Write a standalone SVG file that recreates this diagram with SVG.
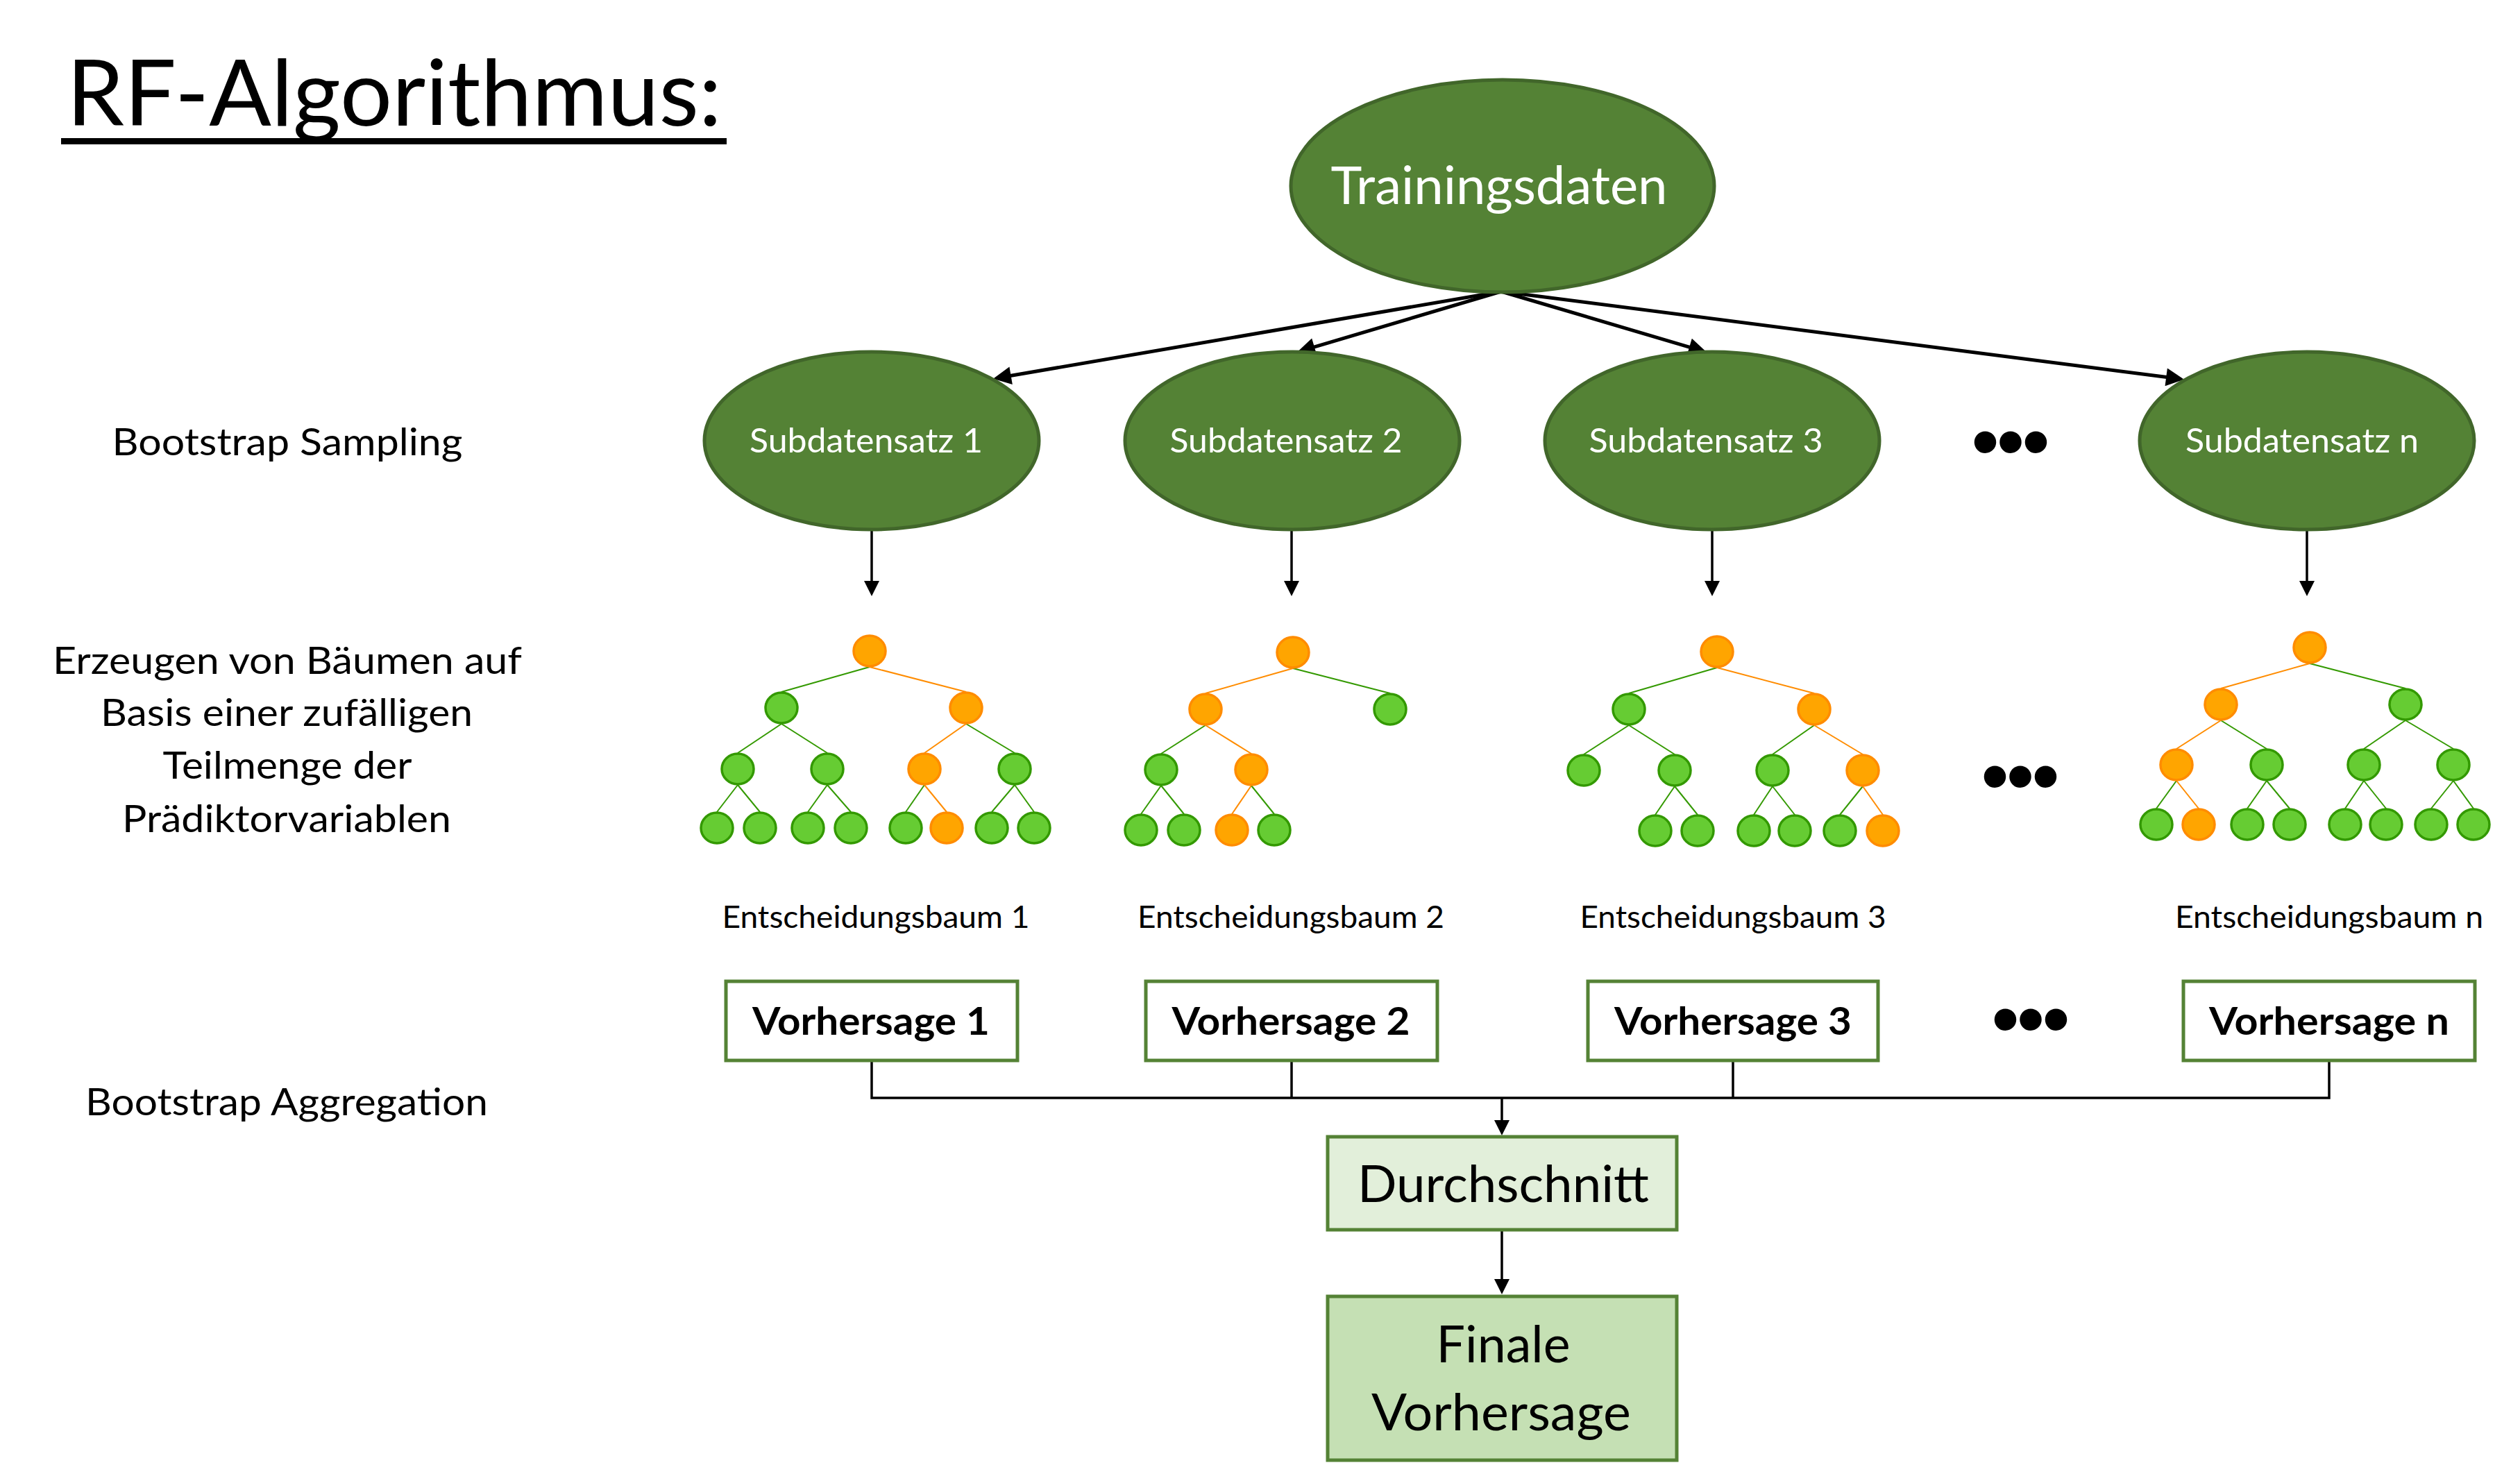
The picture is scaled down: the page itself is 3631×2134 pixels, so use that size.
<svg xmlns="http://www.w3.org/2000/svg" width="3631" height="2134" viewBox="0 0 3631 2134">
<style>
text{font-family:Lato,"Open Sans","Liberation Sans",sans-serif}
.lbl{font-size:55px;fill:#000;text-anchor:middle}
.ell{fill:#548235;stroke:#41662a;stroke-width:5}
.wt{fill:#fff;text-anchor:middle}
.box{fill:#fff;stroke:#548235;stroke-width:5}
.vh{font-size:55px;font-weight:bold;text-anchor:middle}
.eb{font-size:44px;text-anchor:middle}
.big{font-size:74px;text-anchor:middle}
.dots{font-family:"Liberation Sans",Arial,sans-serif;font-weight:bold;font-size:110px;text-anchor:middle;letter-spacing:-2px}
.g{fill:#66cc33;stroke:#339900;stroke-width:3.5}
.o{fill:#ffa500;stroke:#ff8c00;stroke-width:3.5}
.eg{stroke:#339900;stroke-width:2}
.eo{stroke:#ff8c00;stroke-width:2}
.thick{stroke:#000;stroke-width:5;fill:none}
.thin{stroke:#000;stroke-width:3.5;fill:none}
</style>
<defs>
<marker id="ahT" viewBox="0 0 10 10" refX="5" refY="5" markerWidth="30" markerHeight="26" markerUnits="userSpaceOnUse" orient="auto"><path d="M0,0 L10,5 L0,10 z" fill="#000"/></marker>
<marker id="ahS" viewBox="0 0 10 10" refX="5" refY="5" markerWidth="28" markerHeight="22" markerUnits="userSpaceOnUse" orient="auto"><path d="M0,0 L10,5 L0,10 z" fill="#000"/></marker>
</defs>
<rect width="3631" height="2134" fill="#fff"/>

<g id="title">
<text x="96" y="181" font-size="132" textLength="944" lengthAdjust="spacingAndGlyphs">RF-Algorithmus:</text>
<rect x="88" y="199" width="959" height="9" fill="#000"/>
</g>

<g id="side-labels">
<text class="lbl" x="414" y="656" textLength="505" lengthAdjust="spacingAndGlyphs">Bootstrap Sampling</text>
<text class="lbl" x="414" y="971" textLength="676" lengthAdjust="spacingAndGlyphs">Erzeugen von Bäumen auf</text>
<text class="lbl" x="413" y="1046" textLength="536" lengthAdjust="spacingAndGlyphs">Basis einer zufälligen</text>
<text class="lbl" x="414" y="1122" textLength="359" lengthAdjust="spacingAndGlyphs">Teilmenge der</text>
<text class="lbl" x="413" y="1199" textLength="474" lengthAdjust="spacingAndGlyphs">Prädiktorvariablen</text>
<text class="lbl" x="413" y="1607" textLength="580" lengthAdjust="spacingAndGlyphs">Bootstrap Aggregation</text>
</g>

<g id="connectors">
<line class="thick" x1="2163" y1="420" x2="1443.8" y2="543.5" marker-end="url(#ahT)"/>
<line class="thick" x1="2163" y1="420" x2="1881.4" y2="503.7" marker-end="url(#ahT)"/>
<line class="thick" x1="2163" y1="420" x2="2446.6" y2="503.8" marker-end="url(#ahT)"/>
<line class="thick" x1="2163" y1="420" x2="3134.1" y2="545.1" marker-end="url(#ahT)"/>
<line class="thin" x1="1256" y1="763" x2="1256" y2="848" marker-end="url(#ahS)"/>
<line class="thin" x1="1861" y1="763" x2="1861" y2="848" marker-end="url(#ahS)"/>
<line class="thin" x1="2467" y1="763" x2="2467" y2="848" marker-end="url(#ahS)"/>
<line class="thin" x1="3324" y1="763" x2="3324" y2="848" marker-end="url(#ahS)"/>
<polyline class="thin" points="1256,1528 1256,1582 3356,1582 3356,1528"/>
<line class="thin" x1="1861" y1="1528" x2="1861" y2="1582"/>
<line class="thin" x1="2497" y1="1528" x2="2497" y2="1582"/>
<line class="thin" x1="2164" y1="1582" x2="2164" y2="1625" marker-end="url(#ahS)"/>
<line class="thin" x1="2164" y1="1772" x2="2164" y2="1854" marker-end="url(#ahS)"/>
</g>

<g id="trainingsdaten">
<ellipse class="ell" cx="2165" cy="268" rx="305" ry="153"/>
<text class="wt" x="2160" y="294" font-size="75" textLength="485" lengthAdjust="spacingAndGlyphs">Trainingsdaten</text>
</g>

<g id="subdatensatz-1">
<ellipse class="ell" cx="1256" cy="635" rx="241" ry="128"/>
<text class="wt" x="1248" y="652" font-size="48" textLength="336" lengthAdjust="spacingAndGlyphs">Subdatensatz 1</text>
</g>
<g id="subdatensatz-2">
<ellipse class="ell" cx="1862" cy="635" rx="241" ry="128"/>
<text class="wt" x="1853" y="652" font-size="48" textLength="335" lengthAdjust="spacingAndGlyphs">Subdatensatz 2</text>
</g>
<g id="subdatensatz-3">
<ellipse class="ell" cx="2467" cy="635" rx="241" ry="128"/>
<text class="wt" x="2458" y="652" font-size="48" textLength="337" lengthAdjust="spacingAndGlyphs">Subdatensatz 3</text>
</g>
<g id="subdatensatz-n">
<ellipse class="ell" cx="3324" cy="635" rx="241" ry="128"/>
<text class="wt" x="3317" y="652" font-size="48" textLength="336" lengthAdjust="spacingAndGlyphs">Subdatensatz n</text>
</g>

<g id="dots">
<text class="dots" x="2896" y="673">•••</text>
<text class="dots" x="2910" y="1155">•••</text>
<text class="dots" x="2925" y="1505">•••</text>
</g>

<g id="baum-1">
<g>
<line class="eg" x1="1253" y1="961" x2="1126" y2="997"/>
<line class="eo" x1="1253" y1="961" x2="1392" y2="997"/>
<line class="eg" x1="1126" y1="1043" x2="1063" y2="1085"/>
<line class="eg" x1="1126" y1="1043" x2="1192" y2="1085"/>
<line class="eo" x1="1392" y1="1043" x2="1332" y2="1085"/>
<line class="eg" x1="1392" y1="1043" x2="1462" y2="1085"/>
<line class="eg" x1="1063" y1="1131" x2="1033" y2="1170"/>
<line class="eg" x1="1063" y1="1131" x2="1095" y2="1170"/>
<line class="eg" x1="1192" y1="1131" x2="1164" y2="1170"/>
<line class="eg" x1="1192" y1="1131" x2="1226" y2="1170"/>
<line class="eg" x1="1332" y1="1131" x2="1305" y2="1170"/>
<line class="eo" x1="1332" y1="1131" x2="1364" y2="1170"/>
<line class="eg" x1="1462" y1="1131" x2="1429" y2="1170"/>
<line class="eg" x1="1462" y1="1131" x2="1490" y2="1170"/>
</g>
<ellipse class="o" cx="1253" cy="938" rx="23" ry="22"/>
<ellipse class="g" cx="1126" cy="1020" rx="23" ry="22"/>
<ellipse class="o" cx="1392" cy="1020" rx="23" ry="22"/>
<ellipse class="g" cx="1063" cy="1108" rx="23" ry="22"/>
<ellipse class="g" cx="1192" cy="1108" rx="23" ry="22"/>
<ellipse class="o" cx="1332" cy="1108" rx="23" ry="22"/>
<ellipse class="g" cx="1462" cy="1108" rx="23" ry="22"/>
<ellipse class="g" cx="1033" cy="1193" rx="23" ry="22"/>
<ellipse class="g" cx="1095" cy="1193" rx="23" ry="22"/>
<ellipse class="g" cx="1164" cy="1193" rx="23" ry="22"/>
<ellipse class="g" cx="1226" cy="1193" rx="23" ry="22"/>
<ellipse class="g" cx="1305" cy="1193" rx="23" ry="22"/>
<ellipse class="o" cx="1364" cy="1193" rx="23" ry="22"/>
<ellipse class="g" cx="1429" cy="1193" rx="23" ry="22"/>
<ellipse class="g" cx="1490" cy="1193" rx="23" ry="22"/>
</g>

<g id="baum-2">
<g>
<line class="eo" x1="1863" y1="963" x2="1737" y2="999"/>
<line class="eg" x1="1863" y1="963" x2="2003" y2="999"/>
<line class="eg" x1="1737" y1="1045" x2="1673" y2="1086"/>
<line class="eo" x1="1737" y1="1045" x2="1803" y2="1086"/>
<line class="eg" x1="1673" y1="1132" x2="1644" y2="1173"/>
<line class="eg" x1="1673" y1="1132" x2="1706" y2="1173"/>
<line class="eo" x1="1803" y1="1132" x2="1775" y2="1173"/>
<line class="eg" x1="1803" y1="1132" x2="1836" y2="1173"/>
</g>
<ellipse class="o" cx="1863" cy="940" rx="23" ry="22"/>
<ellipse class="o" cx="1737" cy="1022" rx="23" ry="22"/>
<ellipse class="g" cx="2003" cy="1022" rx="23" ry="22"/>
<ellipse class="g" cx="1673" cy="1109" rx="23" ry="22"/>
<ellipse class="o" cx="1803" cy="1109" rx="23" ry="22"/>
<ellipse class="g" cx="1644" cy="1196" rx="23" ry="22"/>
<ellipse class="g" cx="1706" cy="1196" rx="23" ry="22"/>
<ellipse class="o" cx="1775" cy="1196" rx="23" ry="22"/>
<ellipse class="g" cx="1836" cy="1196" rx="23" ry="22"/>
</g>

<g id="baum-3">
<g>
<line class="eg" x1="2474" y1="962" x2="2347" y2="999"/>
<line class="eo" x1="2474" y1="962" x2="2614" y2="999"/>
<line class="eg" x1="2347" y1="1045" x2="2282" y2="1087"/>
<line class="eg" x1="2347" y1="1045" x2="2413" y2="1087"/>
<line class="eg" x1="2614" y1="1045" x2="2554" y2="1087"/>
<line class="eo" x1="2614" y1="1045" x2="2684" y2="1087"/>
<line class="eg" x1="2413" y1="1133" x2="2385" y2="1174"/>
<line class="eg" x1="2413" y1="1133" x2="2446" y2="1174"/>
<line class="eg" x1="2554" y1="1133" x2="2527" y2="1174"/>
<line class="eg" x1="2554" y1="1133" x2="2586" y2="1174"/>
<line class="eg" x1="2684" y1="1133" x2="2651" y2="1174"/>
<line class="eo" x1="2684" y1="1133" x2="2713" y2="1174"/>
</g>
<ellipse class="o" cx="2474" cy="939" rx="23" ry="22"/>
<ellipse class="g" cx="2347" cy="1022" rx="23" ry="22"/>
<ellipse class="o" cx="2614" cy="1022" rx="23" ry="22"/>
<ellipse class="g" cx="2282" cy="1110" rx="23" ry="22"/>
<ellipse class="g" cx="2413" cy="1110" rx="23" ry="22"/>
<ellipse class="g" cx="2554" cy="1110" rx="23" ry="22"/>
<ellipse class="o" cx="2684" cy="1110" rx="23" ry="22"/>
<ellipse class="g" cx="2385" cy="1197" rx="23" ry="22"/>
<ellipse class="g" cx="2446" cy="1197" rx="23" ry="22"/>
<ellipse class="g" cx="2527" cy="1197" rx="23" ry="22"/>
<ellipse class="g" cx="2586" cy="1197" rx="23" ry="22"/>
<ellipse class="g" cx="2651" cy="1197" rx="23" ry="22"/>
<ellipse class="o" cx="2713" cy="1197" rx="23" ry="22"/>
</g>

<g id="baum-n">
<g>
<line class="eo" x1="3328" y1="956" x2="3200" y2="992"/>
<line class="eg" x1="3328" y1="956" x2="3466" y2="992"/>
<line class="eo" x1="3200" y1="1038" x2="3136" y2="1079"/>
<line class="eg" x1="3200" y1="1038" x2="3266" y2="1079"/>
<line class="eg" x1="3466" y1="1038" x2="3406" y2="1079"/>
<line class="eg" x1="3466" y1="1038" x2="3535" y2="1079"/>
<line class="eg" x1="3136" y1="1125" x2="3107" y2="1165"/>
<line class="eo" x1="3136" y1="1125" x2="3168" y2="1165"/>
<line class="eg" x1="3266" y1="1125" x2="3238" y2="1165"/>
<line class="eg" x1="3266" y1="1125" x2="3299" y2="1165"/>
<line class="eg" x1="3406" y1="1125" x2="3379" y2="1165"/>
<line class="eg" x1="3406" y1="1125" x2="3438" y2="1165"/>
<line class="eg" x1="3535" y1="1125" x2="3503" y2="1165"/>
<line class="eg" x1="3535" y1="1125" x2="3564" y2="1165"/>
</g>
<ellipse class="o" cx="3328" cy="933" rx="23" ry="22"/>
<ellipse class="o" cx="3200" cy="1015" rx="23" ry="22"/>
<ellipse class="g" cx="3466" cy="1015" rx="23" ry="22"/>
<ellipse class="o" cx="3136" cy="1102" rx="23" ry="22"/>
<ellipse class="g" cx="3266" cy="1102" rx="23" ry="22"/>
<ellipse class="g" cx="3406" cy="1102" rx="23" ry="22"/>
<ellipse class="g" cx="3535" cy="1102" rx="23" ry="22"/>
<ellipse class="g" cx="3107" cy="1188" rx="23" ry="22"/>
<ellipse class="o" cx="3168" cy="1188" rx="23" ry="22"/>
<ellipse class="g" cx="3238" cy="1188" rx="23" ry="22"/>
<ellipse class="g" cx="3299" cy="1188" rx="23" ry="22"/>
<ellipse class="g" cx="3379" cy="1188" rx="23" ry="22"/>
<ellipse class="g" cx="3438" cy="1188" rx="23" ry="22"/>
<ellipse class="g" cx="3503" cy="1188" rx="23" ry="22"/>
<ellipse class="g" cx="3564" cy="1188" rx="23" ry="22"/>
</g>

<g id="baum-labels">
<text class="eb" x="1262" y="1337" textLength="443" lengthAdjust="spacingAndGlyphs">Entscheidungsbaum 1</text>
<text class="eb" x="1860" y="1337" textLength="442" lengthAdjust="spacingAndGlyphs">Entscheidungsbaum 2</text>
<text class="eb" x="2497" y="1337" textLength="441" lengthAdjust="spacingAndGlyphs">Entscheidungsbaum 3</text>
<text class="eb" x="3356" y="1337" textLength="444" lengthAdjust="spacingAndGlyphs">Entscheidungsbaum n</text>
</g>

<g id="vorhersage-1">
<rect class="box" x="1046" y="1414" width="420" height="114"/>
<text class="vh" x="1255" y="1491" textLength="342" lengthAdjust="spacingAndGlyphs">Vorhersage 1</text>
</g>
<g id="vorhersage-2">
<rect class="box" x="1651" y="1414" width="420" height="114"/>
<text class="vh" x="1860" y="1491" textLength="343" lengthAdjust="spacingAndGlyphs">Vorhersage 2</text>
</g>
<g id="vorhersage-3">
<rect class="box" x="2288" y="1414" width="418" height="114"/>
<text class="vh" x="2497" y="1491" textLength="342" lengthAdjust="spacingAndGlyphs">Vorhersage 3</text>
</g>
<g id="vorhersage-n">
<rect class="box" x="3146" y="1414" width="420" height="114"/>
<text class="vh" x="3356" y="1491" textLength="346" lengthAdjust="spacingAndGlyphs">Vorhersage n</text>
</g>

<g id="durchschnitt">
<rect x="1913" y="1638" width="503" height="134" fill="#e2efda" stroke="#548235" stroke-width="5"/>
<text class="big" x="2166" y="1732" textLength="420" lengthAdjust="spacingAndGlyphs">Durchschnitt</text>
</g>

<g id="finale-vorhersage">
<rect x="1913" y="1868" width="503" height="236" fill="#c5e0b4" stroke="#548235" stroke-width="5"/>
<text class="big" x="2166" y="1963" textLength="193" lengthAdjust="spacingAndGlyphs">Finale</text>
<text class="big" x="2163" y="2061" textLength="374" lengthAdjust="spacingAndGlyphs">Vorhersage</text>
</g>
</svg>
